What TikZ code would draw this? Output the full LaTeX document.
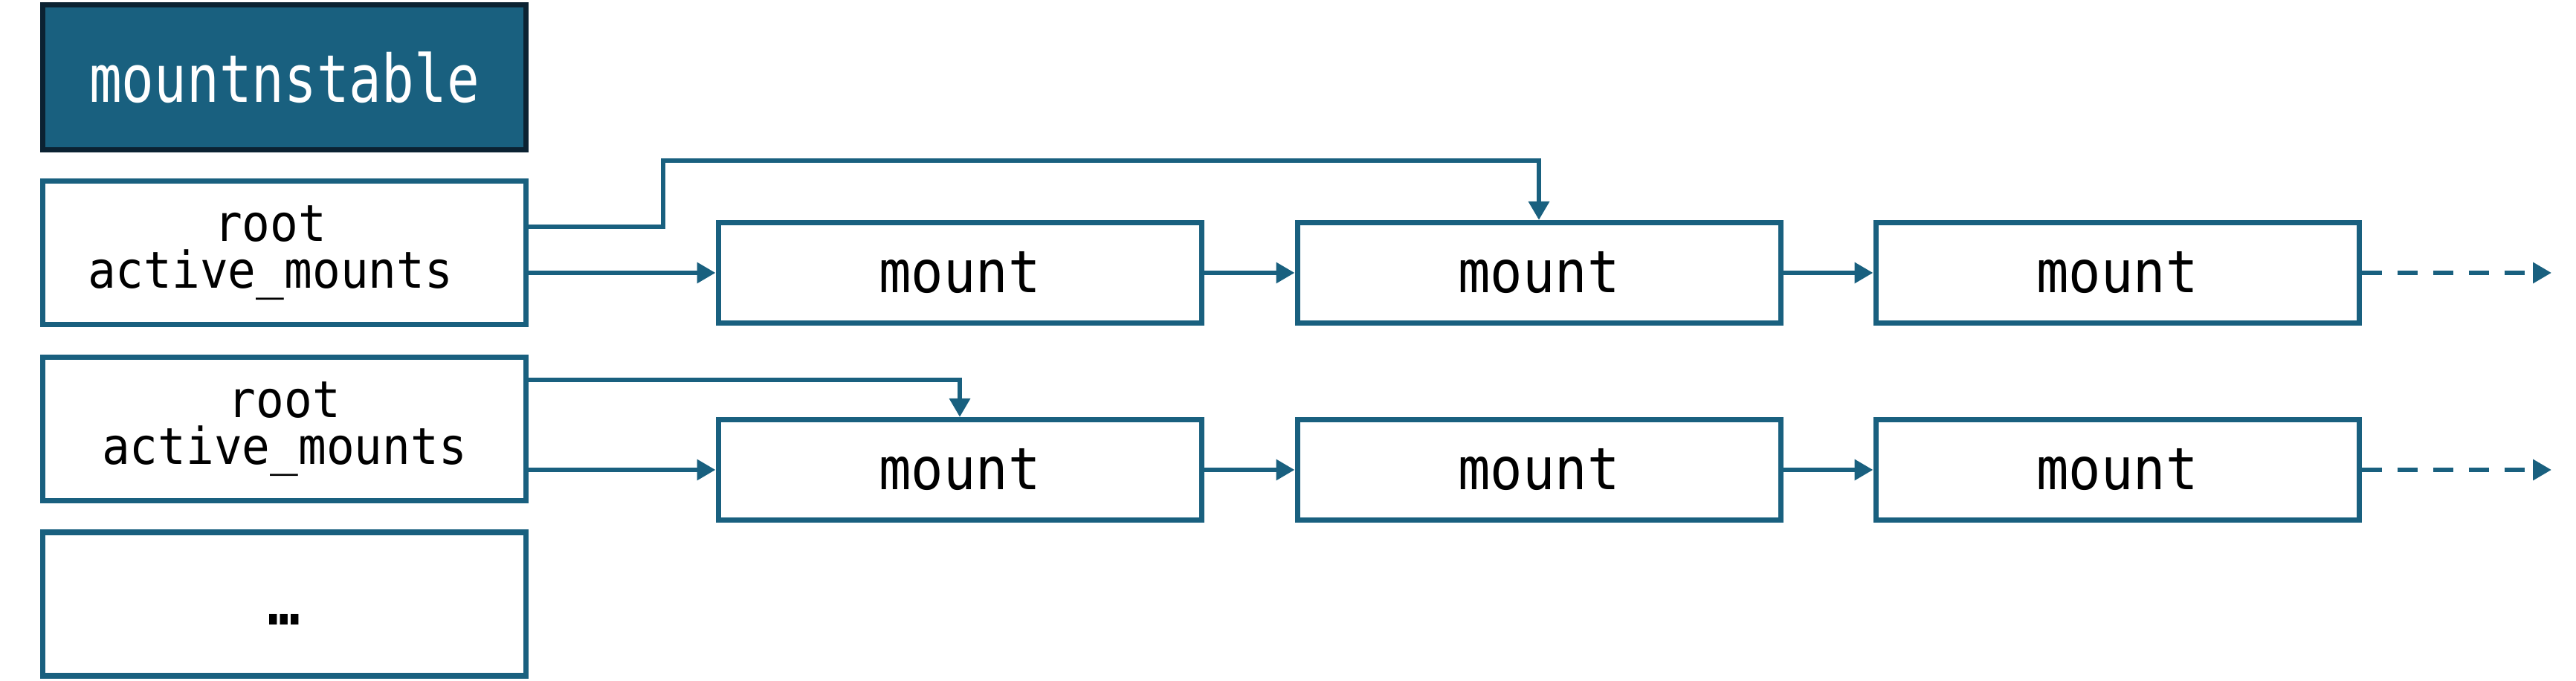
\documentclass[tikz,border=0pt]{standalone}
\usepackage{fontspec}
\setmonofont{DejaVu Sans Mono}
\newfontfamily\hdrfont[FakeStretch=0.82]{DejaVu Sans Mono}
\newfontfamily\boxfont[FakeStretch=0.92]{DejaVu Sans Mono}
\usetikzlibrary{arrows.meta}
\definecolor{mblue}{HTML}{19607F}
\definecolor{mnavy}{HTML}{0B2232}
\tikzset{
  hdr/.style={rectangle,draw=mnavy,fill=mblue,text=white,line width=2pt,minimum width=6.5cm,minimum height=1.95cm,inner sep=0pt,font=\fontsize{25.2}{27}\selectfont\hdrfont},
  rt/.style={rectangle,draw=mblue,fill=white,line width=2pt,minimum width=6.5cm,minimum height=1.93cm,inner sep=0pt,align=center,font=\fontsize{19.4}{17.9}\selectfont\boxfont},
  mnt/.style={rectangle,draw=mblue,fill=white,line width=2pt,minimum width=6.5cm,minimum height=1.35cm,inner sep=0pt,font=\fontsize{22.3}{24}\selectfont\boxfont},
  lnk/.style={draw=mblue,line width=1.8pt,-{Triangle[length=2.5mm,width=2.7mm]}},
  lnkd/.style={lnk,dash pattern=on 2.7mm off 2.1mm},
}
\begin{document}
\begin{tikzpicture}
\useasboundingbox (0,0) rectangle (34.65,9.16);
% the table and its entries
\node[hdr] (tbl) at (3.825,8.12) {mountnstable};
\node[rt] (r1) at (3.825,5.755) {root\hphantom{x}\\active\_mounts\hphantom{x}};
\node[rt] (r2) at (3.825,3.39) {root\\active\_mounts};
\node[rt] (rx) at (3.825,1.035) {\fontsize{22.3}{24}\selectfont\vphantom{t}\bfseries …};
% two chains of mounts
\node[mnt] (m11) at (12.91,5.49) {mount};
\node[mnt] (m12) at (20.70,5.49) {mount};
\node[mnt] (m13) at (28.48,5.49) {mount};
\node[mnt] (m21) at (12.91,2.84) {mount};
\node[mnt] (m22) at (20.70,2.84) {mount};
\node[mnt] (m23) at (28.48,2.84) {mount};
\coordinate (k1) at (8.92,7.00);
\coordinate (e1) at (34.32,5.49);
\coordinate (e2) at (34.32,2.84);
% root entries point into the chains
\draw[lnk] (r1.east |- m11.west) -- (m11.west);
\draw[lnk] ([yshift=3.55mm]r1.east) -| (k1) -| (m12.north);
\draw[lnk] (r2.east |- m21.west) -- (m21.west);
\draw[lnk] ([yshift=6.6mm]r2.east) -| (m21.north);
% along the chains
\draw[lnk] (m11.east) -- (m12.west);
\draw[lnk] (m12.east) -- (m13.west);
\draw[lnkd] (m13.east) -- (e1);
\draw[lnk] (m21.east) -- (m22.west);
\draw[lnk] (m22.east) -- (m23.west);
\draw[lnkd] (m23.east) -- (e2);
\end{tikzpicture}
\end{document}
